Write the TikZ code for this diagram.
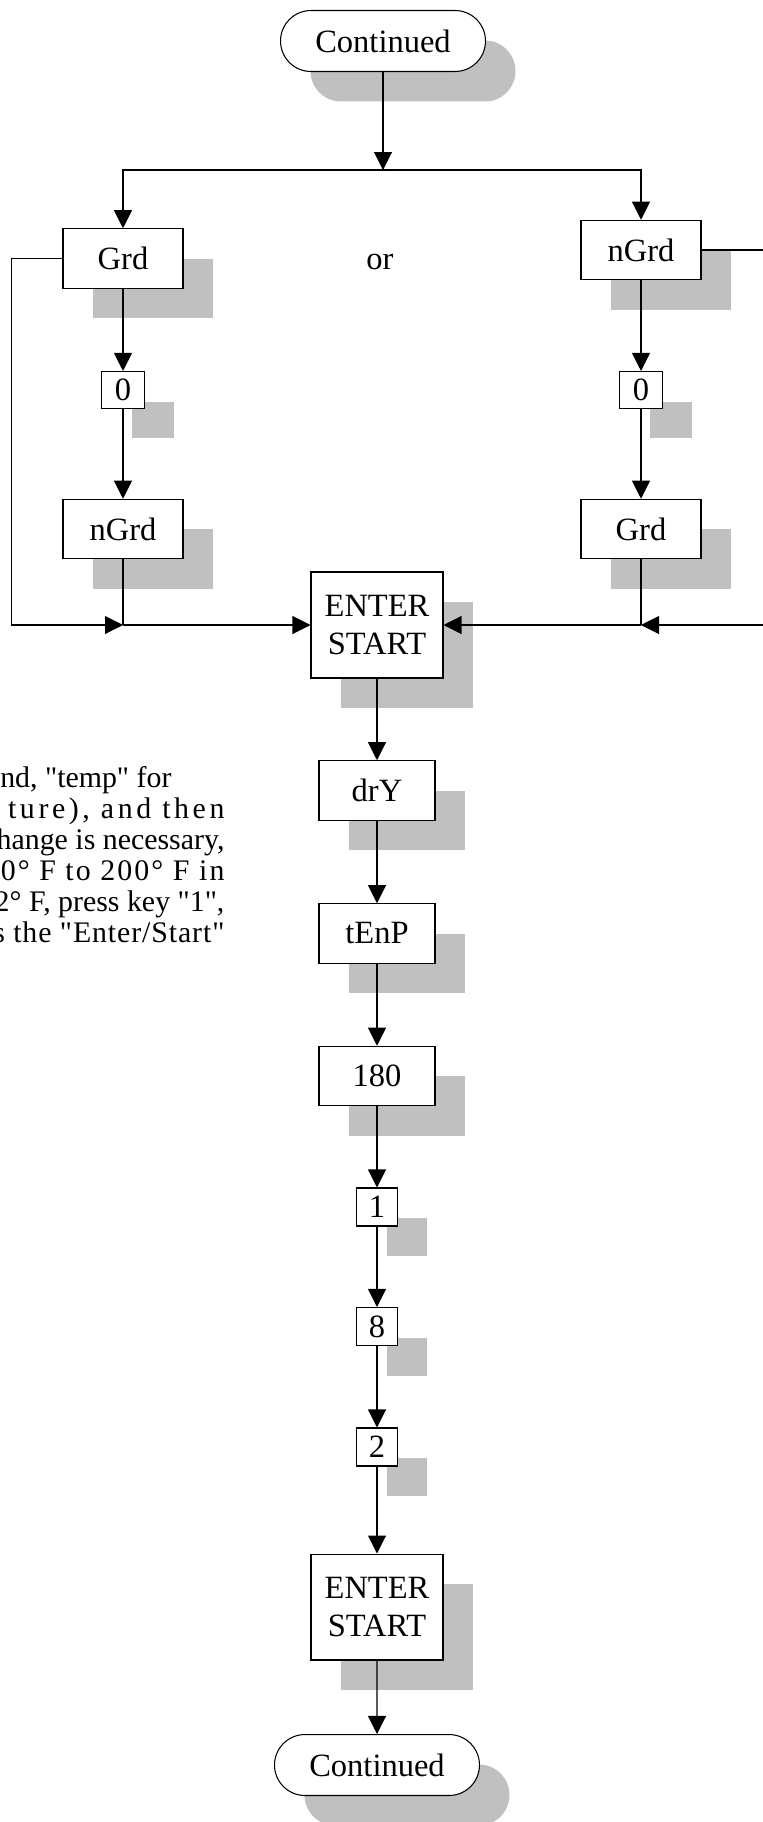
\documentclass[tikz,border=0pt]{standalone}
\usepackage{fontspec}
\setmainfont{Liberation Serif}[Ligatures=TeXOff]
\usepackage{xcolor}
\usetikzlibrary{arrows.meta,shapes.misc,shadows}
\definecolor{shadowgray}{HTML}{C0C0C0}

\begin{document}
\begin{tikzpicture}[x=0.02cm, y=-0.02cm, line width=0.6pt,
  font=\fontsize{18.5pt}{21.6pt}\selectfont,
  arr/.style={-{Triangle[length=0.36cm,width=0.36cm]}},
  boxshadow/.style={general shadow={fill=shadowgray, shadow xshift=0.6cm, shadow yshift=-0.6cm}},
  box/.style={draw, fill=white, boxshadow, inner sep=0pt, minimum width=2.4cm, minimum height=1.19cm},
  keybox/.style={box, minimum width=0.86cm, minimum height=0.74cm},
  enterbox/.style={box, minimum width=2.64cm, minimum height=2.12cm, align=center},
  terminal/.style={draw, fill=white, boxshadow, rounded rectangle, inner sep=0pt, minimum width=4.1cm, minimum height=1.22cm},
  note/.style={font=\fontsize{17pt}{20pt}\selectfont, anchor=base east, inner sep=0pt}]
  \useasboundingbox (0,0) rectangle (763,1822);

  % start
  \node[terminal] (cont1) at (383,41) {Continued};
  \coordinate (split) at (383,170);

  % left branch
  \node[box] (grdL) at (123,258.5) {Grd};
  \node[keybox] (zeroL) at (123,390) {0};
  \node[box] (ngrdL) at (123,529) {nGrd};

  \node (or) at (380,262) {or};

  % right branch
  \node[box] (ngrdR) at (641,250) {nGrd};
  \node[keybox] (zeroR) at (641,390) {0};
  \node[box] (grdR) at (641,529) {Grd};

  % main column
  \node[enterbox] (enter1) at (377,625) {ENTER\\START};
  \node[box, minimum width=2.32cm] (dry) at (377,790.5) {drY};
  \node[box, minimum width=2.32cm] (tenp) at (377,933.5) {tEnP};
  \node[box, minimum width=2.32cm] (num180) at (377,1076) {180};
  \node[keybox, minimum width=0.82cm, minimum height=0.76cm] (key1) at (377,1207) {1};
  \node[keybox, minimum width=0.82cm, minimum height=0.76cm] (key8) at (377,1326.5) {8};
  \node[keybox, minimum width=0.82cm, minimum height=0.76cm] (key2) at (377,1447) {2};
  \node[enterbox] (enter2) at (377,1607) {ENTER\\START};
  \node[terminal] (cont2) at (377,1765) {Continued};

  % text beside the column
  \node[note] (line1) at (172,787) {ond, "temp" for};
  \node[note] (line2) at (225,818) {\addfontfeature{LetterSpace=12}ture), and then};
  \node[note] (line3) at (225,849) {hange is necessary,};
  \node[note] (line4) at (225,880) {\addfontfeature{LetterSpace=7}0° F to 200° F in};
  \node[note] (line5) at (225,911) {2° F, press key "1",};
  \node[note] (line6) at (225,942) {\addfontfeature{LetterSpace=3}s the "Enter/Start"};

  % connectors
  \coordinate (joinL) at (123,625);
  \coordinate (joinR) at (641,625);
  \coordinate (exitR) at (765,250);
  \coordinate (entryR) at (765,625);

  \draw[arr] (cont1.south) -- (split);
  \draw[arr] (split) -| (grdL.north);
  \draw[arr] (split) -| (ngrdR.north);

  \draw[arr] (grdL) -- (zeroL);
  \draw[arr] (zeroL) -- (ngrdL);
  \draw (ngrdL.south) -- (joinL);
  \draw[arr] (grdL.west) -- ++(-51,0) |- (joinL);
  \draw[arr] (joinL) -- (enter1.west);

  \draw[arr] (ngrdR) -- (zeroR);
  \draw[arr] (zeroR) -- (grdR);
  \draw (ngrdR.east) -- (exitR);
  \draw (grdR.south) -- (joinR);
  \draw[arr] (entryR) -- (joinR);
  \draw[arr] (joinR) -- (enter1.east);

  \foreach \a/\b in {enter1/dry, dry/tenp, tenp/num180, num180/key1,
                     key1/key8, key8/key2, key2/enter2, enter2/cont2}
    \draw[arr] (\a) -- (\b);
\end{tikzpicture}
\end{document}
